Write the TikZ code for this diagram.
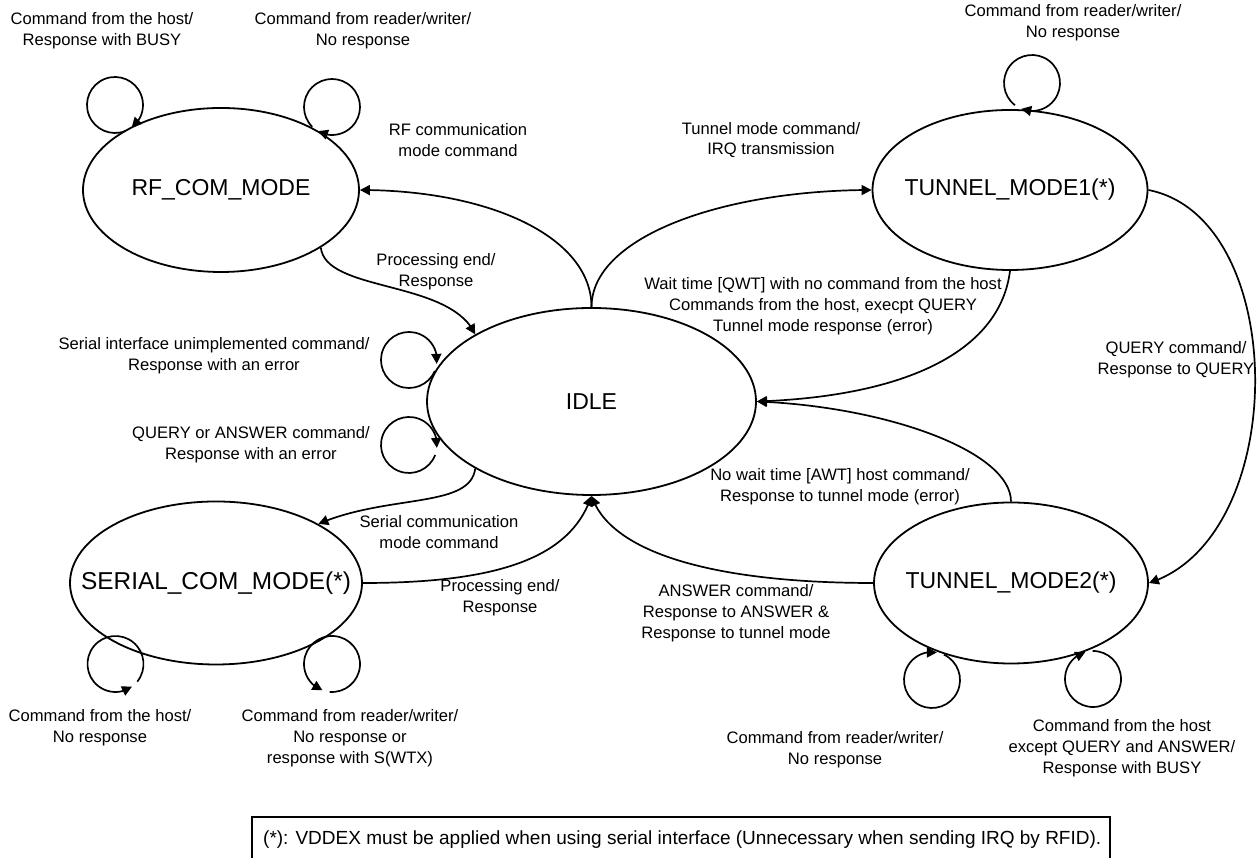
\documentclass[tikz,border=0pt]{standalone}
\usepackage{fontspec}
\setmainfont{Liberation Sans}
\usetikzlibrary{shapes.geometric,arrows.meta,bending,calc}
\begin{document}
\begin{tikzpicture}[x=1pt,y=1pt,
  state/.style={draw, ellipse, line width=1.8pt, inner sep=0pt},
  stxt/.style={font=\fontsize{23}{27}\selectfont},
  lbl/.style={align=center, font=\fontsize{16.6}{20.8}\selectfont, inner sep=0pt},
  conn/.style={line width=1.7pt, -{Triangle[length=10pt,width=10pt]}},
  loopc/.style={line width=1.7pt, -{Triangle[length=10pt,width=10pt,flex]}},
]
\useasboundingbox (0,0) rectangle (1257,858);
\clip (0,0) rectangle (1257,858);

% states
\node[state, minimum width=276pt, minimum height=164pt,
      label={[stxt]center:RF\_COM\_MODE}] (rf) at (221,668) {};
\node[state, minimum width=329pt, minimum height=187pt,
      label={[stxt]center:IDLE}] (idle) at (591.5,456.5) {};
\node[state, minimum width=275pt, minimum height=160pt,
      label={[stxt]center:TUNNEL\_MODE1(*)}] (t1) at (1010,668) {};
\node[state, minimum width=292pt, minimum height=163pt,
      label={[font=\fontsize{24.4}{28}\selectfont]center:SERIAL\_COM\_MODE(*)}] (ser) at (216,275) {};
\node[state, minimum width=274pt, minimum height=161pt,
      label={[stxt]center:TUNNEL\_MODE2(*)}] (t2) at (1011,275) {};

% labels
\node[lbl] (l1) at (102,827) {Command from the host/\\Response with BUSY};
\node[lbl] (l2) at (363,827) {Command from reader/writer/\\No response};
\node[lbl] (l3) at (1073,835) {Command from reader/writer/\\No response};
\node[lbl] (l4) at (458,718) {RF communication\\mode command};
\node[lbl] (l5) at (771,718) {Tunnel mode command/\\IRQ transmission};
\node[lbl] (l6) at (436,586) {Processing end/\\Response};
\node[lbl] (l7) at (823,552) {Wait time [QWT] with no command from the host\\Commands from the host, execpt QUERY\\Tunnel mode response (error)};
\node[lbl] (l8) at (214,502) {Serial interface unimplemented command/\\Response with an error};
\node[lbl] (l9) at (251,413) {QUERY or ANSWER command/\\Response with an error};
\node[lbl] (l10) at (1176,498) {QUERY command/\\Response to QUERY};
\node[lbl] (l11) at (439,326) {Serial communication\\mode command};
\node[lbl] (l12) at (840,371) {No wait time [AWT] host command/\\Response to tunnel mode (error)};
\node[lbl] (l13) at (500,260) {Processing end/\\Response};
\node[lbl] (l14) at (736,245) {ANSWER command/\\Response to ANSWER \&\\Response to tunnel mode};
\node[lbl] (l15) at (100,130.5) {Command from the host/\\No response};
\node[lbl] (l16) at (350,120) {Command from reader/writer/\\No response or\\response with S(WTX)};
\node[lbl] (l17) at (835,108.5) {Command from reader/writer/\\No response};
\node[lbl] (l18) at (1122,110) {Command from the host\\except QUERY and ANSWER/\\Response with BUSY};

% connectors between states
\draw[conn] (idle.north) .. controls +(0,70) and +(130,0) .. (rf.east);
\draw[conn] (idle.north) .. controls +(0,70) and +(-150,0) .. (t1.west);
\draw[conn] (rf.-30) .. controls +(5,-45) and +(-25,55) .. (idle.150);
\draw[conn] (t1.south) .. controls +(-10,-80) and +(150,5) .. (idle.east);
\draw[conn] (t2.north) .. controls +(0,50) and +(130,-5) .. (idle.east);
\draw[conn] (idle.210) .. controls +(-5,-40) and +(70,30) .. (ser.30);
\draw[conn] (ser.east) .. controls +(140,0) and +(-20,-60) .. (idle.south);
\draw[conn] (t2.west) .. controls +(-150,0) and +(20,-60) .. (idle.south);
\draw[conn] (t1.east) .. controls +(142,-28) and +(142,45) .. (t2.east);

% self loops
\coordinate (c1) at (115,753);
\coordinate (c2) at (332,751);
\coordinate (c3) at (1032,775);
\coordinate (c4) at (409,498);
\coordinate (c5) at (409,413);
\coordinate (c6) at (115.5,194);
\coordinate (c7) at (332,194);
\coordinate (c8) at (932,178);
\coordinate (c9) at (1093,179);
\draw[loopc] ([shift={(291.5:28)}]c1) arc[start angle=291.5, end angle=-53.5, radius=28];
\draw[loopc] ([shift={(585:28)}]c2) arc[start angle=585, end angle=240, radius=28];
\draw[loopc] ([shift={(592.5:28)}]c3) arc[start angle=592.5, end angle=247.5, radius=28];
\draw[loopc] ([shift={(337:28)}]c4) arc[start angle=337, end angle=-8, radius=28];
\draw[loopc] ([shift={(339:28)}]c5) arc[start angle=339, end angle=-6, radius=28];
\draw[loopc] ([shift={(-399:28)}]c6) arc[start angle=-399, end angle=-54, radius=28];
\draw[loopc] ([shift={(-95:28)}]c7) arc[start angle=-95, end angle=250, radius=28];
\draw[loopc] ([shift={(425:28)}]c8) arc[start angle=425, end angle=80, radius=28];
\draw[loopc] ([shift={(451:28)}]c9) arc[start angle=451, end angle=106, radius=28];

% footnote
\node[anchor=west, inner sep=0pt, font=\fontsize{19}{23}\selectfont] (fn) at (263,18)
  {(*): VDDEX must be applied when using serial interface (Unnecessary when sending IRQ by RFID).};
\draw[line width=1.5pt] (252,-20) -- (252,41) -- (1110,41) -- (1110,-20);
\end{tikzpicture}
\end{document}
